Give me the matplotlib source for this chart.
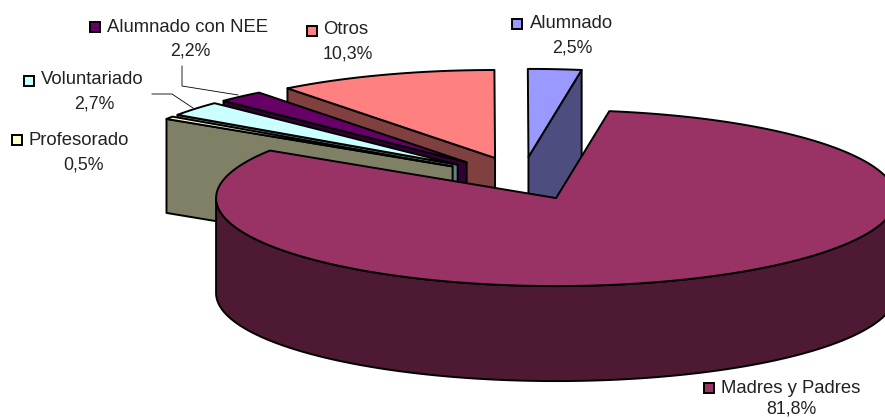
import numpy as np
import matplotlib
matplotlib.use("Agg")
import matplotlib.pyplot as plt
from matplotlib.patches import Polygon, Rectangle

plt.rcParams['font.family'] = ['Liberation Sans', 'DejaVu Sans']

# clockwise from the start angle, same order as the sheet
names = ["Madres y Padres", "Profesorado", "Voluntariado", "Alumnado con NEE", "Otros", "Alumnado"]
values = [81.8, 0.5, 2.7, 2.2, 10.3, 2.5]
pct_labels = ["81,8%", "0,5%", "2,7%", "2,2%", "10,3%", "2,5%"]

top_colors = ["#993366", "#FFFFCC", "#CCFFFF", "#660066", "#FF8080", "#9999FF"]
side_colors = ["#4D1933", "#808066", "#668080", "#330033", "#804040", "#4D4D80"]

# pie geometry in pixels
cx, cy = 522, 178.4
rx, ry = 340, 88
depth = 94
explode = 0.245
start_angle = 81.0
back_stretch = 1.012  # back slices look a bit wider in the 3d view

# label layout: key x, key y, name x, name y, pct x, pct y
label_pos = [
    (704, 383, 721, 388, 791, 409),
    (12, 135, 29, 140, 84, 165),
    (24, 76, 41, 80, 94, 104),
    (90, 22, 107, 27, 190, 51),
    (307, 26, 323, 30, 348, 54),
    (512, 19, 530, 24, 572, 48),
]
leaders = {
    "Voluntariado": ([152, 172, 193], [94, 94, 108]),
    "Alumnado con NEE": ([182, 182, 238], [66, 86, 95]),
}

EDGE = dict(edgecolor="black", linewidth=1.4, joinstyle="round")


def ell(x0, y0, ang):
    ang = np.radians(ang)
    return x0 + rx * np.cos(ang), y0 - ry * np.sin(ang)


fig = plt.figure(figsize=(8.85, 4.19), dpi=100)
ax = fig.add_axes([0, 0, 1, 1])
ax.set_xlim(0, 885)
ax.set_ylim(419, 0)
ax.axis("off")

# slice angles
sweeps = np.array(values) / sum(values) * 360
sweeps[1:] *= back_stretch
sweeps[0] = 360 - sweeps[1:].sum()
slices = []
a = start_angle
for sw in sweeps:
    a_hi, a_lo = a, a - sw
    mid = np.radians((a_hi + a_lo) / 2)
    x0 = cx + explode * rx * np.cos(mid)
    y0 = cy - explode * ry * np.sin(mid)
    slices.append((x0, y0, a_hi, a_lo))
    a = a_lo

# back slices first, big slice goes on top
draw_order = [5, 4, 3, 2, 1, 0]
for i in draw_order:
    x0, y0, a_hi, a_lo = slices[i]
    arc = np.linspace(a_hi, a_lo, 200)
    xs, ys = ell(x0, y0, arc)
    if i == 0:
        # curved outer wall, only the front half shows
        wall = np.linspace(-180, 0, 200)
        wx, wy = ell(x0, y0, wall)
        pts = np.r_[np.c_[wx, wy], np.c_[wx[::-1], wy[::-1] + depth + 1]]
        ax.add_patch(Polygon(pts, closed=True, facecolor=side_colors[i], **EDGE))
    else:
        # the cut face that looks at the viewer
        edge_ang = a_lo if i == 5 else a_hi
        ex, ey = ell(x0, y0, edge_ang)
        pts = [(x0, y0), (ex, ey), (ex, ey + depth), (x0, y0 + depth)]
        ax.add_patch(Polygon(pts, closed=True, facecolor=side_colors[i], **EDGE))
    pts = np.r_[[[x0, y0]], np.c_[xs, ys]]
    ax.add_patch(Polygon(pts, closed=True, facecolor=top_colors[i], **EDGE))

# leader lines
for name, (lx, ly) in leaders.items():
    ax.plot(lx, ly, color="black", lw=0.6)

# labels and legend keys
for name, pct, col, pos in zip(names, pct_labels, top_colors, label_pos):
    kx, ky, nx, ny, px, py = pos
    ax.add_patch(Rectangle((kx, ky), 10, 10, facecolor=col, edgecolor="black", linewidth=1.4))
    ax.text(nx, ny, name, fontsize=13.3, color="#222222", ha="left", va="center")
    ax.text(px, py, pct, fontsize=12.8, color="#222222", ha="center", va="center")

fig.savefig("out.png", dpi=100)
